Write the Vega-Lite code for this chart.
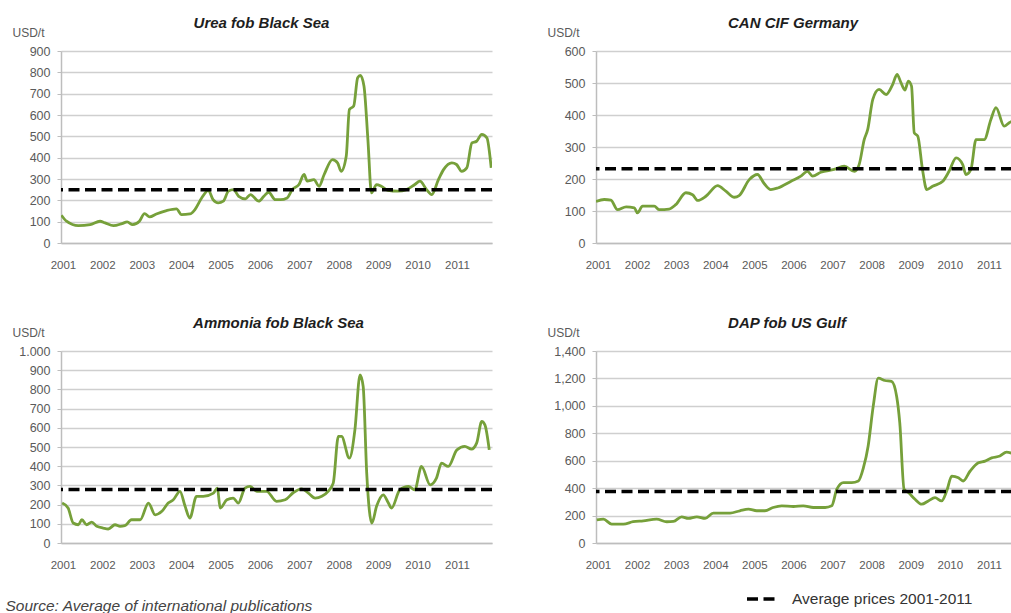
{
  "$schema": "https://vega.github.io/schema/vega-lite/v6.json",
  "autosize": {"type": "none"},
  "padding": {"left": 61, "top": 51, "right": 950, "bottom": 562},
  "background": "white",
  "datasets": {
    "urea": [
      {"year": 2000.96, "price": 130}, {"year": 2001.09, "price": 102}, {"year": 2001.39, "price": 81}, {"year": 2001.69, "price": 86},
      {"year": 2001.94, "price": 102}, {"year": 2002.07, "price": 94}, {"year": 2002.28, "price": 81}, {"year": 2002.5, "price": 91},
      {"year": 2002.63, "price": 99}, {"year": 2002.77, "price": 86}, {"year": 2002.94, "price": 102}, {"year": 2003.07, "price": 138},
      {"year": 2003.2, "price": 122}, {"year": 2003.37, "price": 136}, {"year": 2003.63, "price": 152}, {"year": 2003.88, "price": 160},
      {"year": 2004.01, "price": 133}, {"year": 2004.22, "price": 136}, {"year": 2004.35, "price": 157}, {"year": 2004.52, "price": 211},
      {"year": 2004.69, "price": 247}, {"year": 2004.81, "price": 203}, {"year": 2004.94, "price": 188}, {"year": 2005.07, "price": 196},
      {"year": 2005.2, "price": 243}, {"year": 2005.33, "price": 250}, {"year": 2005.46, "price": 219}, {"year": 2005.63, "price": 207},
      {"year": 2005.76, "price": 227}, {"year": 2005.97, "price": 196}, {"year": 2006.1, "price": 219}, {"year": 2006.22, "price": 238},
      {"year": 2006.39, "price": 203}, {"year": 2006.52, "price": 203}, {"year": 2006.69, "price": 211}, {"year": 2006.82, "price": 250},
      {"year": 2006.99, "price": 274}, {"year": 2007.12, "price": 321}, {"year": 2007.2, "price": 290}, {"year": 2007.37, "price": 297},
      {"year": 2007.5, "price": 266}, {"year": 2007.63, "price": 321}, {"year": 2007.84, "price": 391}, {"year": 2007.97, "price": 376},
      {"year": 2008.06, "price": 336}, {"year": 2008.19, "price": 407}, {"year": 2008.27, "price": 626}, {"year": 2008.38, "price": 642},
      {"year": 2008.48, "price": 775}, {"year": 2008.55, "price": 786}, {"year": 2008.64, "price": 736}, {"year": 2008.74, "price": 485},
      {"year": 2008.83, "price": 235}, {"year": 2008.96, "price": 274}, {"year": 2009.08, "price": 266}, {"year": 2009.25, "price": 247},
      {"year": 2009.5, "price": 243}, {"year": 2009.72, "price": 250}, {"year": 2009.93, "price": 274}, {"year": 2010.06, "price": 290},
      {"year": 2010.23, "price": 250}, {"year": 2010.36, "price": 227}, {"year": 2010.53, "price": 297}, {"year": 2010.66, "price": 344},
      {"year": 2010.87, "price": 376}, {"year": 2010.99, "price": 368}, {"year": 2011.12, "price": 336}, {"year": 2011.25, "price": 352},
      {"year": 2011.38, "price": 469}, {"year": 2011.5, "price": 477}, {"year": 2011.63, "price": 509}, {"year": 2011.76, "price": 493},
      {"year": 2011.87, "price": 352}
    ],
    "can": [
      {"year": 2000.95, "price": 130}, {"year": 2001.16, "price": 136}, {"year": 2001.33, "price": 134}, {"year": 2001.5, "price": 104},
      {"year": 2001.72, "price": 113}, {"year": 2001.93, "price": 110}, {"year": 2002.01, "price": 94}, {"year": 2002.14, "price": 115},
      {"year": 2002.44, "price": 115}, {"year": 2002.57, "price": 104}, {"year": 2002.82, "price": 106}, {"year": 2002.99, "price": 120},
      {"year": 2003.25, "price": 157}, {"year": 2003.42, "price": 151}, {"year": 2003.55, "price": 133}, {"year": 2003.76, "price": 146},
      {"year": 2004.06, "price": 179}, {"year": 2004.27, "price": 162}, {"year": 2004.49, "price": 143}, {"year": 2004.61, "price": 148},
      {"year": 2004.87, "price": 198}, {"year": 2005.08, "price": 214}, {"year": 2005.25, "price": 186}, {"year": 2005.42, "price": 167},
      {"year": 2005.6, "price": 172}, {"year": 2005.94, "price": 193}, {"year": 2006.19, "price": 209}, {"year": 2006.36, "price": 224},
      {"year": 2006.49, "price": 209}, {"year": 2006.7, "price": 221}, {"year": 2007.04, "price": 230}, {"year": 2007.3, "price": 240},
      {"year": 2007.56, "price": 224}, {"year": 2007.68, "price": 245}, {"year": 2007.81, "price": 323}, {"year": 2007.9, "price": 355},
      {"year": 2008.03, "price": 449}, {"year": 2008.19, "price": 480}, {"year": 2008.37, "price": 464}, {"year": 2008.54, "price": 496},
      {"year": 2008.65, "price": 527}, {"year": 2008.75, "price": 501}, {"year": 2008.85, "price": 478}, {"year": 2008.94, "price": 506},
      {"year": 2009.02, "price": 490}, {"year": 2009.09, "price": 344}, {"year": 2009.18, "price": 334}, {"year": 2009.3, "price": 230},
      {"year": 2009.41, "price": 167}, {"year": 2009.56, "price": 177}, {"year": 2009.82, "price": 193}, {"year": 2009.98, "price": 224},
      {"year": 2010.16, "price": 266}, {"year": 2010.33, "price": 245}, {"year": 2010.41, "price": 214}, {"year": 2010.54, "price": 230},
      {"year": 2010.67, "price": 323}, {"year": 2010.88, "price": 323}, {"year": 2011.05, "price": 386}, {"year": 2011.18, "price": 423},
      {"year": 2011.39, "price": 365}, {"year": 2011.52, "price": 376}, {"year": 2011.62, "price": 382}
    ],
    "ammonia": [
      {"year": 2000.98, "price": 208}, {"year": 2001.13, "price": 182}, {"year": 2001.26, "price": 104}, {"year": 2001.39, "price": 95},
      {"year": 2001.48, "price": 121}, {"year": 2001.6, "price": 95}, {"year": 2001.73, "price": 109}, {"year": 2001.86, "price": 87},
      {"year": 2002.02, "price": 78}, {"year": 2002.15, "price": 73}, {"year": 2002.32, "price": 95}, {"year": 2002.45, "price": 87},
      {"year": 2002.57, "price": 90}, {"year": 2002.74, "price": 121}, {"year": 2002.96, "price": 121}, {"year": 2003.17, "price": 208},
      {"year": 2003.34, "price": 147}, {"year": 2003.51, "price": 165}, {"year": 2003.67, "price": 208}, {"year": 2003.8, "price": 225},
      {"year": 2003.97, "price": 269}, {"year": 2004.1, "price": 191}, {"year": 2004.22, "price": 130}, {"year": 2004.39, "price": 243},
      {"year": 2004.56, "price": 243}, {"year": 2004.82, "price": 260}, {"year": 2004.92, "price": 286}, {"year": 2004.99, "price": 182},
      {"year": 2005.16, "price": 225}, {"year": 2005.32, "price": 234}, {"year": 2005.45, "price": 208}, {"year": 2005.62, "price": 286},
      {"year": 2005.75, "price": 295}, {"year": 2005.92, "price": 269}, {"year": 2006.17, "price": 269}, {"year": 2006.42, "price": 217},
      {"year": 2006.64, "price": 225}, {"year": 2006.85, "price": 263}, {"year": 2007.06, "price": 282}, {"year": 2007.23, "price": 260},
      {"year": 2007.4, "price": 234}, {"year": 2007.57, "price": 243}, {"year": 2007.73, "price": 269}, {"year": 2007.86, "price": 312},
      {"year": 2007.99, "price": 555}, {"year": 2008.07, "price": 555}, {"year": 2008.27, "price": 442}, {"year": 2008.41, "price": 589},
      {"year": 2008.54, "price": 875}, {"year": 2008.62, "price": 815}, {"year": 2008.71, "price": 364}, {"year": 2008.84, "price": 104},
      {"year": 2008.96, "price": 191}, {"year": 2009.13, "price": 251}, {"year": 2009.26, "price": 208}, {"year": 2009.34, "price": 182},
      {"year": 2009.55, "price": 277}, {"year": 2009.77, "price": 295}, {"year": 2009.93, "price": 277}, {"year": 2010.1, "price": 399},
      {"year": 2010.32, "price": 303}, {"year": 2010.48, "price": 338}, {"year": 2010.61, "price": 416}, {"year": 2010.78, "price": 399},
      {"year": 2011.0, "price": 485}, {"year": 2011.2, "price": 503}, {"year": 2011.37, "price": 489}, {"year": 2011.5, "price": 520},
      {"year": 2011.63, "price": 633}, {"year": 2011.71, "price": 615}, {"year": 2011.82, "price": 485}
    ],
    "dap": [
      {"year": 2000.97, "price": 169}, {"year": 2001.14, "price": 174}, {"year": 2001.35, "price": 138}, {"year": 2001.65, "price": 138},
      {"year": 2001.9, "price": 155}, {"year": 2002.16, "price": 162}, {"year": 2002.5, "price": 174}, {"year": 2002.76, "price": 155},
      {"year": 2002.93, "price": 157}, {"year": 2003.14, "price": 191}, {"year": 2003.31, "price": 179}, {"year": 2003.53, "price": 191},
      {"year": 2003.74, "price": 179}, {"year": 2003.95, "price": 218}, {"year": 2004.16, "price": 218}, {"year": 2004.38, "price": 218},
      {"year": 2004.63, "price": 235}, {"year": 2004.85, "price": 247}, {"year": 2005.06, "price": 235}, {"year": 2005.27, "price": 235},
      {"year": 2005.48, "price": 259}, {"year": 2005.7, "price": 271}, {"year": 2006.0, "price": 266}, {"year": 2006.25, "price": 271},
      {"year": 2006.51, "price": 259}, {"year": 2006.81, "price": 259}, {"year": 2006.98, "price": 271}, {"year": 2007.11, "price": 392},
      {"year": 2007.28, "price": 440}, {"year": 2007.49, "price": 440}, {"year": 2007.66, "price": 452}, {"year": 2007.79, "price": 549},
      {"year": 2007.91, "price": 706}, {"year": 2008.04, "price": 996}, {"year": 2008.17, "price": 1202}, {"year": 2008.34, "price": 1185},
      {"year": 2008.51, "price": 1178}, {"year": 2008.64, "price": 1069}, {"year": 2008.72, "price": 875}, {"year": 2008.83, "price": 392},
      {"year": 2008.94, "price": 368}, {"year": 2009.11, "price": 319}, {"year": 2009.28, "price": 283}, {"year": 2009.45, "price": 307},
      {"year": 2009.62, "price": 331}, {"year": 2009.79, "price": 307}, {"year": 2009.92, "price": 380}, {"year": 2010.05, "price": 488},
      {"year": 2010.22, "price": 476}, {"year": 2010.34, "price": 452}, {"year": 2010.52, "price": 525}, {"year": 2010.73, "price": 585},
      {"year": 2010.9, "price": 597}, {"year": 2011.07, "price": 621}, {"year": 2011.28, "price": 634}, {"year": 2011.45, "price": 663},
      {"year": 2011.62, "price": 650}
    ],
    "averages": [
      {"product": "urea", "avg": 250, "label": "Average prices 2001-2011"},
      {"product": "can", "avg": 232, "label": "Average prices 2001-2011"},
      {"product": "ammonia", "avg": 278, "label": "Average prices 2001-2011"},
      {"product": "dap", "avg": 375, "label": "Average prices 2001-2011"}
    ]
  },
  "columns": 2,
  "spacing": {"row": 108, "column": 104},
  "bounds": "flush",
  "concat": [
    {
      "width": 431, "height": 192,
      "title": {"text": "Urea fob Black Sea", "dx": -15},
      "layer": [
        {
          "data": {"name": "urea"},
          "mark": {"type": "line", "color": "#76a03a", "strokeWidth": 2.8, "clip": true, "interpolate": "monotone"},
          "encoding": {
            "x": {"field": "year", "type": "quantitative", "scale": {"domain": [2000.95, 2011.89], "nice": false, "zero": false},
                  "axis": {"values": [2001, 2002, 2003, 2004, 2005, 2006, 2007, 2008, 2009, 2010, 2011], "format": "d", "title": null}},
            "y": {"field": "price", "type": "quantitative", "scale": {"domain": [0, 900], "nice": false},
                  "axis": {"values": [0, 100, 200, 300, 400, 500, 600, 700, 800, 900], "title": "USD/t"}}
          }
        },
        {
          "data": {"name": "averages"},
          "transform": [{"filter": "datum.product === 'urea'"}],
          "mark": {"type": "rule", "color": "black", "strokeWidth": 3.5, "strokeDash": [11, 5.5]},
          "encoding": {"y": {"field": "avg", "type": "quantitative",
                             "axis": {"values": [0, 100, 200, 300, 400, 500, 600, 700, 800, 900], "title": "USD/t"}}}
        }
      ]
    },
    {
      "width": 416, "height": 192,
      "title": {"text": "CAN CIF Germany", "dx": -11},
      "layer": [
        {
          "data": {"name": "can"},
          "mark": {"type": "line", "color": "#76a03a", "strokeWidth": 2.8, "clip": true, "interpolate": "monotone"},
          "encoding": {
            "x": {"field": "year", "type": "quantitative", "scale": {"domain": [2000.95, 2011.59], "nice": false, "zero": false},
                  "axis": {"values": [2001, 2002, 2003, 2004, 2005, 2006, 2007, 2008, 2009, 2010, 2011], "format": "d", "title": null}},
            "y": {"field": "price", "type": "quantitative", "scale": {"domain": [0, 600], "nice": false},
                  "axis": {"values": [0, 100, 200, 300, 400, 500, 600], "title": "USD/t"}}
          }
        },
        {
          "data": {"name": "averages"},
          "transform": [{"filter": "datum.product === 'can'"}],
          "mark": {"type": "rule", "color": "black", "strokeWidth": 3.5, "strokeDash": [11, 5.5]},
          "encoding": {"y": {"field": "avg", "type": "quantitative",
                             "axis": {"values": [0, 100, 200, 300, 400, 500, 600], "title": "USD/t"}}}
        }
      ]
    },
    {
      "width": 431, "height": 192,
      "title": {"text": "Ammonia fob Black Sea", "dx": 2},
      "layer": [
        {
          "data": {"name": "ammonia"},
          "mark": {"type": "line", "color": "#76a03a", "strokeWidth": 2.8, "clip": true, "interpolate": "monotone"},
          "encoding": {
            "x": {"field": "year", "type": "quantitative", "scale": {"domain": [2000.95, 2011.89], "nice": false, "zero": false},
                  "axis": {"values": [2001, 2002, 2003, 2004, 2005, 2006, 2007, 2008, 2009, 2010, 2011], "format": "d",
                           "title": "Source: Average of international publications", "titleX": -56, "titleY": 62, "titleAlign": "left",
                           "titleBaseline": "middle", "titleFontStyle": "italic", "titleFontWeight": "normal", "titleFontSize": 15.5, "titleColor": "#444444"}},
            "y": {"field": "price", "type": "quantitative", "scale": {"domain": [0, 1000], "nice": false},
                  "axis": {"values": [0, 100, 200, 300, 400, 500, 600, 700, 800, 900, 1000], "title": "USD/t",
                           "labelExpr": "replace(format(datum.value, ','), ',', '.')"}}
          }
        },
        {
          "data": {"name": "averages"},
          "transform": [{"filter": "datum.product === 'ammonia'"}],
          "mark": {"type": "rule", "color": "black", "strokeWidth": 3.5, "strokeDash": [11, 5.5]},
          "encoding": {"y": {"field": "avg", "type": "quantitative",
                             "axis": {"values": [0, 100, 200, 300, 400, 500, 600, 700, 800, 900, 1000], "title": "USD/t",
                                      "labelExpr": "replace(format(datum.value, ','), ',', '.')"}}}
        }
      ]
    },
    {
      "width": 416, "height": 192,
      "title": {"text": "DAP fob US Gulf", "dx": -17},
      "layer": [
        {
          "data": {"name": "dap"},
          "mark": {"type": "line", "color": "#76a03a", "strokeWidth": 2.8, "clip": true, "interpolate": "monotone"},
          "encoding": {
            "x": {"field": "year", "type": "quantitative", "scale": {"domain": [2000.95, 2011.59], "nice": false, "zero": false},
                  "axis": {"values": [2001, 2002, 2003, 2004, 2005, 2006, 2007, 2008, 2009, 2010, 2011], "format": "d", "title": null}},
            "y": {"field": "price", "type": "quantitative", "scale": {"domain": [0, 1400], "nice": false},
                  "axis": {"values": [0, 200, 400, 600, 800, 1000, 1200, 1400], "labelExpr": "format(datum.value, ',')", "title": "USD/t"}}
          }
        },
        {
          "data": {"name": "averages"},
          "transform": [{"filter": "datum.product === 'dap'"}],
          "mark": {"type": "rule", "color": "black", "strokeWidth": 3.5},
          "encoding": {
            "y": {"field": "avg", "type": "quantitative",
                  "axis": {"values": [0, 200, 400, 600, 800, 1000, 1200, 1400], "labelExpr": "format(datum.value, ',')", "title": "USD/t"}},
            "strokeDash": {"field": "label", "type": "nominal", "scale": {"range": [[11, 5.5]]},
                           "legend": {"title": null, "orient": "none", "legendX": 684, "legendY": 530, "padding": 0,
                                      "symbolType": "stroke", "symbolSize": 1024, "symbolStrokeWidth": 3.5, "symbolStrokeColor": "black",
                                      "labelFontSize": 15.5, "labelColor": "#333333", "labelOffset": 11, "labelLimit": 0, "labelFont": "Liberation Sans"}}
          }
        }
      ]
    }
  ],
  "config": {
    "font": "Liberation Sans",
    "view": {"stroke": null},
    "title": {"font": "Liberation Sans", "fontSize": 15, "fontStyle": "italic", "fontWeight": "bold", "color": "#1e1e1e", "frame": "group", "anchor": "middle", "offset": -5},
    "axis": {"labelFont": "Liberation Sans", "labelColor": "#5a5a5a", "domainColor": "#bdbdbd", "domainWidth": 1.5,
             "tickColor": "#bdbdbd", "gridColor": "#cfcfcf", "gridWidth": 1.5, "titleFont": "Liberation Sans"},
    "axisX": {"grid": false, "ticks": false, "tickSize": 0, "labelPadding": 16, "labelFontSize": 11.5, "labelFlush": false, "labelOverlap": false},
    "axisY": {"grid": true, "tickSize": 4, "labelPadding": 7, "labelFontSize": 12.5, "labelOverlap": false, "titleAngle": 0, "titleAlign": "left",
              "titleBaseline": "middle", "titleX": -49, "titleY": -19, "titleFontSize": 12, "titleFontWeight": "normal", "titleColor": "#5a5a5a"}
  }
}
